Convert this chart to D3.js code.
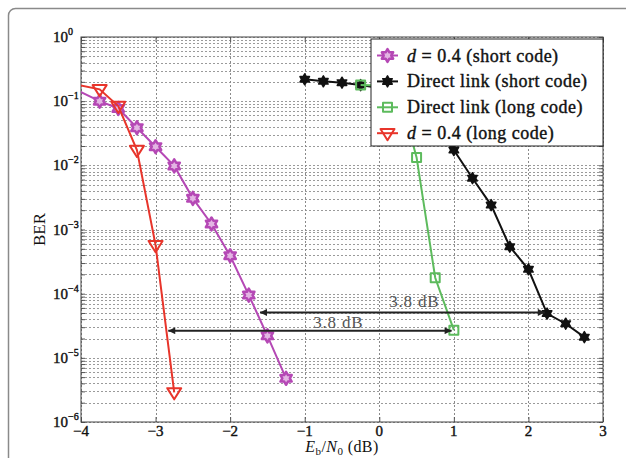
<!DOCTYPE html>
<html>
<head>
<meta charset="utf-8">
<script src="https://cdn.jsdelivr.net/npm/d3@7"></script>
<style>
  body { margin: 0; background: #fff; }
  svg text { fill: #111; }
  svg text.heavy { stroke: #111; stroke-width: 0.4px; }
</style>
</head>
<body>
<svg width="626" height="458"></svg>
<script>
// values (BER vs Eb/N0)
var relayShortX = [-4.25, -3.75, -3.5, -3.25, -3, -2.75, -2.5, -2.25, -2, -1.75, -1.5, -1.25];
var relayShortY = [0.19, 0.10, 0.077, 0.0386, 0.0195, 0.0098, 0.00306, 0.00122, 3.9e-4, 9.5e-5, 2.2e-5, 4.8e-6];

var directShortX = [-1, -0.75, -0.5, -0.25, 0, 0.25, 0.5, 0.75, 1, 1.25, 1.5, 1.75, 2, 2.25, 2.5, 2.75];
var directShortY = [0.219, 0.204, 0.194, 0.178, 0.16, 0.13, 0.085, 0.038, 0.0173, 6.3e-3, 2.4e-3, 5.4e-4, 2.4e-4, 4.9e-5, 3.4e-5, 2.1e-5];

var directLongX = [-0.25, 0, 0.25, 0.5, 0.75, 1];
var directLongY = [0.178, 0.175, 0.16, 0.0133, 1.77e-4, 2.7e-5];

var relayLongX = [-4.25, -3.75, -3.5, -3.25, -3, -2.75];
var relayLongY = [0.2, 0.153, 0.084, 0.0173, 5.7e-4, 2.9e-6];

var xTicks = [-4, -3, -2, -1, 0, 1, 2, 3];
var yExps = [0, -1, -2, -3, -4, -5, -6];

// the two "3.8 dB" gaps: x from, x to, BER, label position
var gapFrom = [-1.6, -2.83];
var gapTo = [2.22, 0.97];
var gapBer = [5.1e-5, 2.65e-5];
var gapLabelX = [0.47, -0.55];
var gapLabelBer = [6.3e-5, 2.9e-5];

var legendLabels = ["d = 0.4 (short code)", "Direct link (short code)", "Direct link (long code)", "d = 0.4 (long code)"];

var serif = "Liberation Serif";

var svg = d3.select("svg")
    .style("font-family", serif),
    margin = {top: 37, right: 23, bottom: 36, left: 81},
    width = +svg.attr("width") - margin.left - margin.right,
    height = +svg.attr("height") - margin.top - margin.bottom;

// outer frame of the figure panel
svg.append("rect")
    .attr("x", 8.5).attr("y", 8.5)
    .attr("width", 700).attr("height", 600)
    .attr("rx", 7)
    .attr("fill", "none")
    .attr("stroke", "#8a8a8a")
    .attr("stroke-width", 1.5);

var g = svg.append("g").attr("transform", "translate(" + margin.left + "," + margin.top + ")");

var x = d3.scaleLinear().domain([-4, 3]).range([0, width]);
var y = d3.scaleLog().domain([1e-6, 1]).range([height, 0]);

var defs = svg.append("defs");
defs.append("clipPath").attr("id", "clip")
  .append("rect").attr("width", width).attr("height", height);

// grid
var yGrid = y.ticks();
g.append("g").selectAll("line")
  .data(yGrid)
  .enter().append("line")
    .attr("x1", 0).attr("x2", width)
    .attr("y1", function(d) { return Math.round(y(d)) + 0.5; })
    .attr("y2", function(d) { return Math.round(y(d)) + 0.5; })
    .attr("stroke", "#9a9a9a")
    .attr("stroke-dasharray", "2,2");

g.append("g").selectAll("line")
  .data(xTicks)
  .enter().append("line")
    .attr("x1", function(d) { return Math.round(x(d)) + 0.5; })
    .attr("x2", function(d) { return Math.round(x(d)) + 0.5; })
    .attr("y1", 0).attr("y2", height)
    .attr("stroke", "#8a8a8a")
    .attr("stroke-dasharray", "2,2");

// ticks on all four sides (inside)
var axisL = g.append("g").call(d3.axisLeft(y).tickValues(yGrid).tickSizeInner(-4).tickSizeOuter(0).tickFormat(""));
var axisR = g.append("g").attr("transform", "translate(" + width + ",0)")
  .call(d3.axisRight(y).tickValues(yGrid).tickSizeInner(-4).tickSizeOuter(0).tickFormat(""));
var axisB = g.append("g").attr("transform", "translate(0," + height + ")")
  .call(d3.axisBottom(x).tickValues(xTicks).tickSizeInner(-5).tickSizeOuter(0).tickFormat(""));
var axisT = g.append("g")
  .call(d3.axisTop(x).tickValues(xTicks).tickSizeInner(-5).tickSizeOuter(0).tickFormat(""));
[axisL, axisR, axisB, axisT].forEach(function(a) {
  a.select(".domain").remove();
  a.selectAll("line").attr("stroke", "#555");
});

g.append("rect")
    .attr("width", width).attr("height", height)
    .attr("fill", "none").attr("stroke", "#444").attr("stroke-width", 1);

// tick labels
g.append("g").selectAll("text")
  .data(xTicks)
  .enter().append("text")
    .attr("class", "heavy")
    .style("font-family", serif)
    .attr("x", function(d) { return x(d); })
    .attr("y", height + 14)
    .attr("text-anchor", "middle")
    .attr("font-size", 15)
    .text(function(d) { return d < 0 ? "\u2212" + (-d) : d; });

var yl = g.append("g").selectAll("text")
  .data(yExps)
  .enter().append("text")
    .attr("class", "heavy")
    .style("font-family", serif)
    .attr("x", -28)
    .attr("y", function(d) { return y(Math.pow(10, d)) + 5; })
    .attr("font-size", 15);
yl.append("tspan").text("10");
yl.append("tspan")
    .attr("dy", -7)
    .attr("font-size", 10)
    .text(function(d) { return d < 0 ? "\u2212" + (-d) : d; });

// axis titles
var xt = g.append("text")
    .style("font-family", serif)
    .attr("x", width / 2)
    .attr("y", height + 30)
    .attr("text-anchor", "middle")
    .attr("font-size", 16)
    .attr("letter-spacing", 0.4);
xt.append("tspan").attr("font-style", "italic").text("E");
xt.append("tspan").attr("font-size", 11).attr("dy", 3).text("b");
xt.append("tspan").attr("dy", -3).text("/");
xt.append("tspan").attr("font-style", "italic").text("N");
xt.append("tspan").attr("font-size", 11).attr("dy", 3).text("0");
xt.append("tspan").attr("dy", -3).text(" (dB)");

g.append("text")
    .style("font-family", serif)
    .attr("transform", "translate(-36," + (height / 2) + ") rotate(-90)")
    .attr("text-anchor", "middle")
    .attr("font-size", 17)
    .text("BER");

// markers
function hexagram(r) {
  var p = d3.path();
  for (var i = 0; i < 12; i++) {
    var a = Math.PI / 6 * i - Math.PI / 2;
    var rr = i % 2 === 0 ? r : r * 0.577;
    var px = rr * Math.cos(a), py = rr * Math.sin(a);
    if (i === 0) p.moveTo(px, py); else p.lineTo(px, py);
  }
  p.closePath();
  return p.toString();
}
function triDown(r) {
  return "M" + (-r) + "," + (-r * 0.6) + "L" + r + "," + (-r * 0.6) + "L0," + (r * 1.0) + "Z";
}
function square(r) {
  return "M" + (-r) + "," + (-r) + "H" + r + "V" + r + "H" + (-r) + "Z";
}

var series = [
  {xs: relayShortX, ys: relayShortY, color: "#b548b5", path: hexagram(6.5), fill: "#e3b5e3", sw: 2.5},
  {xs: directShortX, ys: directShortY, color: "#111", path: hexagram(5.5), fill: "#111", sw: 1.5},
  {xs: directLongX, ys: directLongY, color: "#5dbb5d", path: square(4.5), fill: "none", sw: 2},
  {xs: relayLongX, ys: relayLongY, color: "#e8352b", path: triDown(7), fill: "none", sw: 2}
];

var line = d3.line()
    .x(function(d) { return x(d[0]); })
    .y(function(d) { return y(d[1]); });

var plot = g.append("g").attr("clip-path", "url(#clip)");

series.forEach(function(s) {
  var pts = d3.zip(s.xs, s.ys);
  plot.append("path")
      .datum(pts)
      .attr("d", line)
      .attr("fill", "none")
      .attr("stroke", s.color)
      .attr("stroke-width", 2);
  plot.selectAll(null)
    .data(pts)
    .enter().append("path")
      .attr("transform", function(d) { return "translate(" + x(d[0]) + "," + y(d[1]) + ")"; })
      .attr("d", s.path)
      .attr("fill", s.fill)
      .attr("stroke", s.color)
      .attr("stroke-width", s.sw)
      .attr("stroke-linejoin", "round");
});

// gap arrows
defs.append("marker")
    .attr("id", "head")
    .attr("viewBox", "0 0 10 10")
    .attr("refX", 10).attr("refY", 5)
    .attr("markerWidth", 12).attr("markerHeight", 7)
    .attr("markerUnits", "userSpaceOnUse")
    .attr("orient", "auto-start-reverse")
  .append("path")
    .attr("d", "M0,0L10,5L0,10Z")
    .attr("fill", "#222");

gapFrom.forEach(function(x0, i) {
  g.append("line")
      .attr("x1", x(x0)).attr("x2", x(gapTo[i]))
      .attr("y1", y(gapBer[i])).attr("y2", y(gapBer[i]))
      .attr("stroke", "#222")
      .attr("stroke-width", 2)
      .attr("marker-start", "url(#head)")
      .attr("marker-end", "url(#head)");
  g.append("text")
      .style("font-family", serif)
      .attr("x", x(gapLabelX[i]))
      .attr("y", y(gapLabelBer[i]))
      .attr("text-anchor", "middle")
      .attr("font-size", 17)
      .attr("letter-spacing", 0.8)
      .style("fill", "#555")
      .text("3.8 dB");
});

// legend
var lg = g.append("g").attr("transform", "translate(" + (x(3) - 232) + ",2)");
lg.append("rect")
    .attr("width", 232).attr("height", 107)
    .attr("fill", "#fff").attr("stroke", "#222");

var item = lg.selectAll(".item")
  .data(series)
  .enter().append("g")
    .attr("class", "item")
    .attr("transform", function(d, i) { return "translate(0," + (16.5 + i * 25.9) + ")"; });

item.append("line")
    .attr("x1", 6).attr("x2", 27)
    .attr("stroke", function(d) { return d.color; })
    .attr("stroke-width", 2);
item.append("path")
    .attr("transform", "translate(16.5,0)")
    .attr("d", function(d) { return d.path; })
    .attr("fill", function(d) { return d.fill; })
    .attr("stroke", function(d) { return d.color; })
    .attr("stroke-width", function(d) { return d.sw; })
    .attr("stroke-linejoin", "round");

item.append("text")
    .attr("class", "heavy")
    .style("font-family", serif)
    .attr("x", 36)
    .attr("y", 6)
    .attr("font-size", 18)
    .attr("letter-spacing", 0.5)
    .each(function(d, i) {
      var t = d3.select(this), lab = legendLabels[i];
      if (lab.charAt(0) === "d") {
        t.append("tspan").attr("font-style", "italic").text("d");
        t.append("tspan").text(lab.slice(1));
      } else {
        t.text(lab);
      }
    });
</script>
</body>
</html>
